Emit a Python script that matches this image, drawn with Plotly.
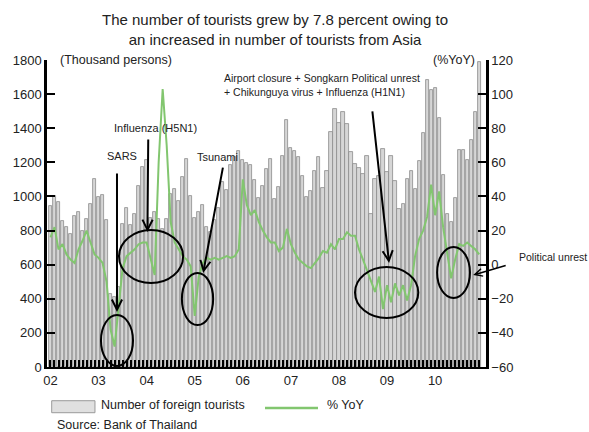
import plotly.graph_objects as go

# Monthly categories, Jan 2002 - Dec 2010
years = list(range(2002, 2011))
months = [f"{y}-{m:02d}" for y in years for m in range(1, 13)]
year_labels = [f"{y % 100:02d}" for y in years]

# Number of foreign tourists (thousand persons)
tourists = [
    942, 1001, 966, 855, 823, 781, 884, 907, 796, 868, 956, 1102,      # 2002
    999, 1011, 863, 430, 410, 470, 839, 933, 833, 900, 1063, 1175,     # 2003
    1216, 872, 906, 867, 808, 867, 1014, 1043, 974, 1116, 1220, 1000,  # 2004
    873, 911, 950, 822, 790, 860, 930, 1087, 1038, 1184, 1233, 1268,   # 2005
    1214, 1194, 1184, 1096, 990, 1062, 1160, 1219, 984, 1053, 1238, 1450,  # 2006
    1287, 1268, 1229, 1121, 994, 1033, 1150, 1229, 1047, 1150, 1375, 1512,  # 2007
    1428, 1496, 1424, 1258, 1190, 1164, 1131, 1238, 896, 1101, 1121, 1277,  # 2008
    1141, 1238, 1092, 926, 955, 1101, 1150, 1043, 1209, 1372, 1683, 1624,  # 2009
    1634, 1458, 1126, 900, 852, 989, 1272, 1272, 1214, 1331, 1497, 1790,   # 2010
]

# Growth, % year on year
yoy = [
    16, 22, 9, 12, 6, 3, 1, 9, 14, 20, 13, 6,
    4, 1, -10, -38, -48, -25, -2, 5, 7, 9, 12, 13,
    13, 3, -6, 60, 103, 70, 25, 13, 9, 5, 3, -1,
    -30, -7, 1, 4, 3, 4, 3, 4, 5, 4, 5, 9,
    50, 35, 29, 32, 25, 20, 16, 13, 13, 8, 10, 21,
    12, 7, 3, 1, -1, -2, 1, 4, 8, 7, 12, 9,
    15, 15, 19, 17, 17, 9, 3, -3, -9, -16, -7, -26,
    -12, -22, -11, -18, -12, -21, -12, 5, 15, 20, 28, 47,
    29, 43, 22, 8, -8, 3, 12, 11, 13, 11, 9, 6,
]

x = list(range(len(months)))
FONT = "Liberation Sans, Arial, sans-serif"
GREEN = "#82c66f"

fig = go.Figure()
fig.add_trace(go.Bar(
    x=x, y=tourists, yaxis="y", width=0.78,
    marker=dict(color="#d6d6d6", line=dict(color="#8c8c8c", width=0.8)),
    cliponaxis=False, showlegend=False,
))
fig.add_trace(go.Scatter(
    x=x, y=yoy, yaxis="y2", mode="lines",
    line=dict(color=GREEN, width=2), showlegend=False,
))

tick_text = [year_labels[i // 12] if i % 12 == 0 else "" for i in x]

fig.update_layout(
    width=589, height=432,
    margin=dict(l=47, r=103, t=60, b=65),
    paper_bgcolor="white", plot_bgcolor="white",
    font=dict(family=FONT, size=13, color="#222"),
    bargap=0,
    xaxis=dict(
        range=[-0.87, 108.7], tickmode="array", tickvals=x, ticktext=tick_text,
        ticks="inside", ticklen=7, tickwidth=1.5, tickcolor="black",
        showline=True, linecolor="black", linewidth=2,
        showgrid=False, zeroline=False, tickfont=dict(size=13),
    ),
    yaxis=dict(
        range=[0, 1800], dtick=200, ticks="inside", ticklen=8, tickwidth=2,
        tickcolor="black", showline=True, linecolor="black", linewidth=2.5,
        showgrid=False, zeroline=False, tickfont=dict(size=13),
    ),
    yaxis2=dict(
        range=[-60, 120], dtick=20, overlaying="y", side="right",
        ticks="inside", ticklen=8, tickwidth=2, tickcolor="black",
        showline=True, linecolor="black", linewidth=2.5,
        showgrid=False, zeroline=False, tickfont=dict(size=13),
    ),
)

annotations = [
    dict(text="The number of tourists grew by 7.8 percent owing to<br>"
              "an increased in number of tourists from Asia",
         xref="paper", yref="paper", x=0.52, y=1.0 + 30 / 307,
         xanchor="center", yanchor="middle", showarrow=False,
         font=dict(size=15, color="#222")),
    dict(text="(Thousand persons)", xref="paper", yref="paper",
         x=0.025, y=1.0, xanchor="left", yanchor="middle", showarrow=False,
         font=dict(size=12.5)),
    dict(text="(%YoY)", xref="paper", yref="paper",
         x=0.98, y=1.0, xanchor="right", yanchor="middle", showarrow=False,
         font=dict(size=12.5)),
    # event labels
    dict(text="SARS", x=17.9, y=1237, xref="x", yref="y", showarrow=False,
         font=dict(size=11)),
    dict(text="Influenza (H5N1)", x=26.1, y=1401, xref="x", yref="y",
         showarrow=False, font=dict(size=11)),
    dict(text="Tsunami", x=41.6, y=1231, xref="x", yref="y",
         showarrow=False, font=dict(size=11)),
    dict(text="Airport closure + Songkarn Political unrest<br>"
              "+ Chikunguya virus + Influenza (H1N1)",
         x=42.8, y=1651, xref="x", yref="y", xanchor="left", align="left",
         showarrow=False, font=dict(size=10.5)),
    dict(text="Political unrest", xref="paper", yref="paper",
         x=1.0706, y=0.332, xanchor="left", showarrow=False,
         font=dict(size=10.5)),
    # legend
    dict(text="Number of foreign tourists", xref="paper", yref="paper",
         x=0.1185, y=-0.1238, xanchor="left", yanchor="middle",
         showarrow=False, font=dict(size=12.5)),
    dict(text="% YoY", xref="paper", yref="paper",
         x=0.6333, y=-0.1238, xanchor="left", yanchor="middle",
         showarrow=False, font=dict(size=12.5)),
    dict(text="Source: Bank of Thailand", xref="paper", yref="paper",
         x=0.0182, y=-0.189, xanchor="left", yanchor="middle",
         showarrow=False, font=dict(size=12.5)),
]

# arrows pointing at the events (head, tail in data units)
arrows = [
    ((16.6, 323), (16.6, 1143)),
    ((24.2, 791), (24.4, 1343)),
    ((38.1, 551), (43.1, 1178)),
    ((84.5, 610), (80.3, 1507)),
]
for (hx, hy), (tx, ty) in arrows:
    annotations.append(dict(
        x=hx, y=hy, ax=tx, ay=ty, xref="x", yref="y", axref="x", ayref="y",
        text="", showarrow=True, arrowhead=5, arrowsize=1, arrowwidth=2,
        arrowcolor="black"))
annotations.append(dict(
    x=105.5, y=539, xref="x", yref="y", ax=34, ay=-10, text="",
    showarrow=True, arrowhead=5, arrowsize=1, arrowwidth=1.5,
    arrowcolor="black"))

# ellipses around the shocks (x0, x1, y0, y1)
ellipses = [
    (12.6, 20.6, 6, 305),
    (17.1, 33.1, 492, 803),
    (32.8, 40.6, 246, 551),
    (76.0, 91.8, 287, 586),
    (96.5, 104.7, 405, 704),
]
shapes = [
    dict(type="circle", xref="x", yref="y", x0=a, x1=b, y0=c, y1=d,
         line=dict(color="black", width=2))
    for a, b, c, d in ellipses
]
# legend swatches
shapes.append(dict(type="rect", xref="paper", yref="paper",
                   x0=0.0107, x1=0.1093, y0=-0.1489, y1=-0.1098,
                   fillcolor="#e0e0e0", line=dict(color="#9a9a9a", width=1)))
shapes.append(dict(type="line", xref="paper", yref="paper",
                   x0=0.4966, x1=0.6173, y0=-0.1336, y1=-0.1336,
                   line=dict(color=GREEN, width=2.5)))

fig.update_layout(annotations=annotations, shapes=shapes)
fig.write_html("out.html")
